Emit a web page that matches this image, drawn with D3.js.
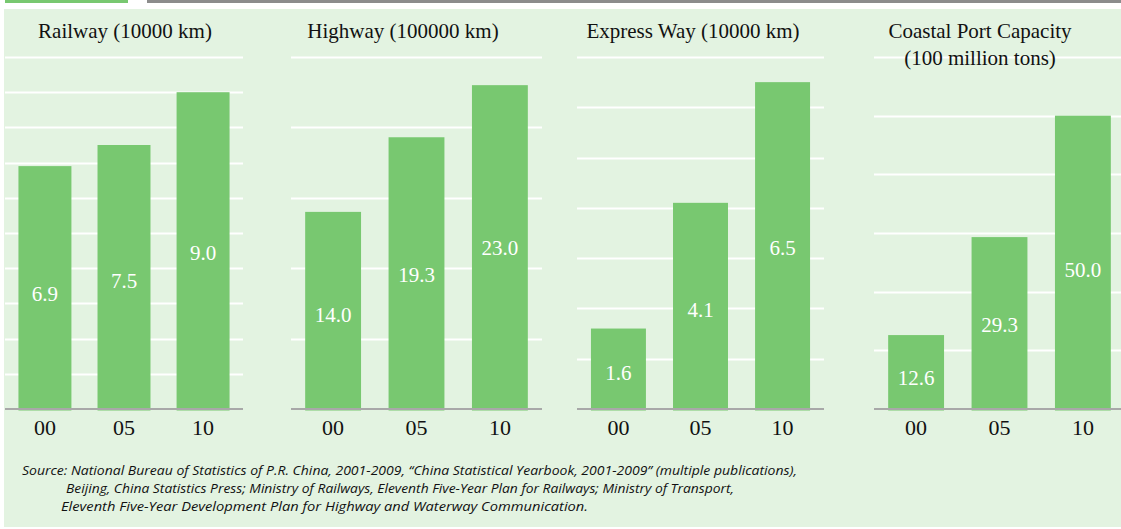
<!DOCTYPE html>
<html>
<head>
<meta charset="utf-8">
<script src="https://cdn.jsdelivr.net/npm/d3@7"></script>
<style>
  html, body { margin: 0; padding: 0; background: #ffffff; }
  svg { display: block; }
</style>
</head>
<body>
<svg id="chart" width="1121" height="529"></svg>
<script>
// ---------- data ----------
const years = ["00", "05", "10"];
const panelTitles = [
  ["Railway (10000 km)"],
  ["Highway (100000 km)"],
  ["Express Way (10000 km)"],
  ["Coastal Port Capacity", "(100 million tons)"]
];
const railwayValues = [6.9, 7.5, 9.0];
const highwayValues = [14.0, 19.3, 23.0];
const expressWayValues = [1.6, 4.1, 6.5];
const portCapacityValues = [12.6, 29.3, 50.0];
const axisMax = [10, 25, 7, 60];
const axisStep = [1, 5, 1, 10];
const sourceLines = [
  "Source: National Bureau of Statistics of P.R. China, 2001-2009, \u201cChina Statistical Yearbook, 2001-2009\u201d (multiple publications),",
  "Beijing, China Statistics Press; Ministry of Railways, Eleventh Five-Year Plan for Railways; Ministry of Transport,",
  "Eleventh Five-Year Development Plan for Highway and Waterway Communication."
];

// ---------- layout ----------
const W = 1121, H = 529;
const colors = { bg: "#e3f3e1", bar: "#78c870", grid: "#ffffff", axis: "#a8a8a8", topGreen: "#78c870", topGray: "#8c8c8c" };
const panels = [
  { values: railwayValues, x0: 5, x1: 243, titleX: 125 },
  { values: highwayValues, x0: 291, x1: 542, titleX: 403 },
  { values: expressWayValues, x0: 577, x1: 824, titleX: 693 },
  { values: portCapacityValues, x0: 874, x1: 1125, titleX: 980 }
];
// small per-label vertical nudges (px) for the in-bar value labels
const labelNudge = [[5, 3, 1], [4, 1, 0], [3, 3, 1], [5, 1, 7]];
const yTop = 57, yBottom = 409;

const svg = d3.select("#chart");

// top strips
svg.append("rect").attr("x", 5).attr("y", 0).attr("width", 123).attr("height", 3).attr("fill", colors.topGreen);
svg.append("rect").attr("x", 147).attr("y", 0).attr("width", W - 147).attr("height", 3).attr("fill", colors.topGray);

// background
svg.append("rect").attr("x", 4).attr("y", 9).attr("width", W - 4).attr("height", 518).attr("fill", colors.bg);

panels.forEach((p, i) => {
  const g = svg.append("g");
  const x = d3.scaleBand().domain(years).range([p.x0, p.x1]).paddingInner(0.33).paddingOuter(0.17);
  const y = d3.scaleLinear().domain([0, axisMax[i]]).range([yBottom, yTop]);
  const ticks = d3.range(axisStep[i], axisMax[i] + axisStep[i] / 2, axisStep[i]);

  // gridlines
  g.selectAll("line.grid").data(ticks).join("line")
    .attr("class", "grid")
    .attr("x1", p.x0).attr("x2", p.x1)
    .attr("y1", d => Math.round(y(d)) + 0.5).attr("y2", d => Math.round(y(d)) + 0.5)
    .attr("stroke", colors.grid).attr("stroke-width", 2);

  // bars
  g.selectAll("rect.bar").data(p.values).join("rect")
    .attr("class", "bar")
    .attr("x", (d, j) => x(years[j]))
    .attr("width", x.bandwidth())
    .attr("y", d => y(d))
    .attr("height", d => y(0) - y(d) + 1.5)
    .attr("fill", colors.bar);

  // baseline axis
  g.append("line")
    .attr("x1", p.x0).attr("x2", p.x1)
    .attr("y1", y(0)).attr("y2", y(0))
    .attr("stroke", colors.axis).attr("stroke-width", 2);

  // x axis labels via d3 axis
  const xAxis = d3.axisBottom(x).tickSize(0).tickPadding(0);
  const ax = g.append("g").attr("transform", `translate(0,${y(0)})`).call(xAxis);
  ax.select(".domain").remove();
  ax.selectAll("text")
    .attr("y", 26).attr("dy", 0)
    .attr("font-family", "Liberation Serif, Times New Roman, serif")
    .attr("font-size", 22).attr("fill", "#111");

  // value labels
  g.selectAll("text.val").data(p.values).join("text")
    .attr("class", "val")
    .attr("x", (d, j) => x(years[j]) + x.bandwidth() / 2)
    .attr("y", (d, j) => (y(d) + y(0)) / 2 + 8 + labelNudge[i][j])
    .attr("text-anchor", "middle")
    .attr("font-family", "Liberation Serif, Times New Roman, serif")
    .attr("font-size", 21).attr("fill", "#ffffff")
    .text(d => d.toFixed(1));

  // title
  g.selectAll("text.title").data(panelTitles[i]).join("text")
    .attr("class", "title")
    .attr("x", p.titleX)
    .attr("y", (d, k) => 38 + k * 27)
    .attr("text-anchor", "middle")
    .attr("font-family", "Liberation Serif, Times New Roman, serif")
    .attr("font-size", 21).attr("fill", "#111")
    .text(d => d);
});

// source note
const srcX = [22, 66, 61];
const srcW = [775, 668, 527];
svg.selectAll("text.src").data(sourceLines).join("text")
  .attr("class", "src")
  .attr("x", (d, i) => srcX[i])
  .attr("y", (d, i) => 475 + i * 18)
  .attr("font-family", "Open Sans, Noto Sans, sans-serif")
  .attr("font-style", "italic")
  .attr("font-size", 13)
  .attr("fill", "#111")
  .attr("textLength", (d, i) => srcW[i])
  .attr("lengthAdjust", "spacingAndGlyphs")
  .text(d => d);
</script>
</body>
</html>
